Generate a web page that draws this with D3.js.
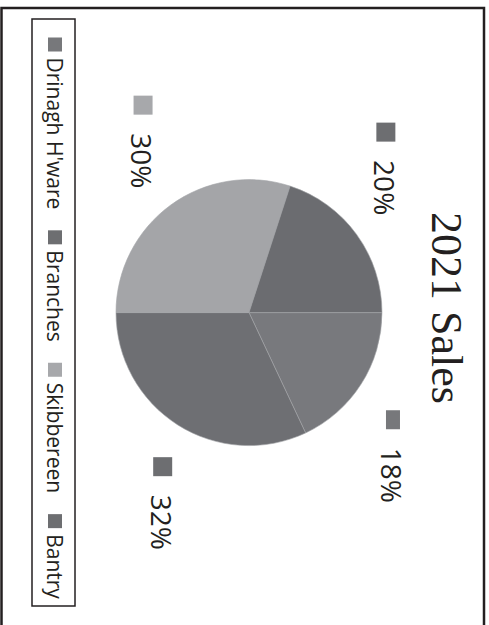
<!DOCTYPE html>
<html>
<head>
<meta charset="utf-8">
<script src="https://cdn.jsdelivr.net/npm/d3@7/dist/d3.min.js"></script>
<style>
  html, body { margin: 0; padding: 0; background: #ffffff; }
  svg { display: block; }
</style>
</head>
<body>
<svg id="chart" width="489" height="625"></svg>
<script>
// 2021 sales split by outlet
const title = "2021 Sales";
const categories = ["Drinagh H'ware", "Branches", "Skibbereen", "Bantry"];
const shares = [18, 32, 30, 20];
const sliceColors = ["#78797d", "#6e6f73", "#a4a5a8", "#6b6c70"];
const keyColors = ["#77787b", "#6d6e71", "#a7a8ab", "#6d6e71"];

const W = 625, H = 489;          // page laid out landscape, then turned a quarter clockwise
const ink = "#231f20";
const sans = "'Open Sans', 'Noto Sans', sans-serif";

const svg = d3.select("#chart");
const g = svg.append("g").attr("transform", `translate(${H},0) rotate(90)`);

// frame
g.append("rect")
  .attr("x", 8).attr("y", 5).attr("width", W + 30).attr("height", 482.5)
  .attr("fill", "none").attr("stroke", ink).attr("stroke-width", 2.5);

// title
g.append("text")
  .attr("x", 308).attr("y", 57)
  .attr("text-anchor", "middle")
  .attr("font-family", "'Liberation Serif', 'Times New Roman', serif")
  .attr("font-size", 44)
  .attr("fill", ink)
  .text(title);

// pie
const cx = 312.6, cy = 240, r = 133;
const pie = d3.pie().sort(null).value(d => d);
const arcs = pie(shares);
const arc = d3.arc().innerRadius(0).outerRadius(r);

const pieG = g.append("g").attr("transform", `translate(${cx},${cy})`);
pieG.selectAll("path")
  .data(arcs)
  .join("path")
  .attr("d", arc)
  .attr("fill", (d, i) => sliceColors[i])
  .attr("stroke", "#a3a4a7")
  .attr("stroke-width", 0.6);

// data labels: key square + percentage, placed outside the pie
const labelNudge = [12.9, -7.7, 3.8, -10.7];      // degrees, best-fit offsets
const labelReach = [1.523, 1.58, 1.516, 1.484];   // multiples of the radius
const keyTall = [14, 19, 19, 19];                 // first key is drawn squashed
const labelG = g.append("g");
arcs.forEach((d, i) => {
  const mid = (d.startAngle + d.endAngle) / 2 + labelNudge[i] * Math.PI / 180;
  const dist = r * labelReach[i];
  const lx = cx + dist * Math.sin(mid);
  const ly = cy - dist * Math.cos(mid);
  const item = labelG.append("g");
  const t = item.append("text")
    .attr("font-family", sans)
    .attr("font-size", 28)
    .attr("fill", ink)
    .text(`${d.data}%`);
  const tw = t.node().getComputedTextLength();
  const total = 19 + 18.5 + tw;
  const x0 = lx - total / 2;
  item.append("rect")
    .attr("x", x0).attr("y", ly - 1.5 - keyTall[i] / 2)
    .attr("width", 19).attr("height", keyTall[i])
    .attr("fill", keyColors[i]);
  t.attr("x", x0 + 37.5).attr("y", ly + 10.5);
});

// legend
const lg = g.append("g");
lg.append("rect")
  .attr("x", 19).attr("y", 414).attr("width", 587).attr("height", 43)
  .attr("fill", "none").attr("stroke", ink).attr("stroke-width", 1.5);

let cursor = 37.5;
categories.forEach((name, i) => {
  lg.append("rect")
    .attr("x", cursor).attr("y", 427)
    .attr("width", 14).attr("height", 14)
    .attr("fill", keyColors[i]);
  const t = lg.append("text")
    .attr("x", cursor + 20).attr("y", 442)
    .attr("font-family", sans)
    .attr("font-size", 21)
    .attr("fill", ink)
    .text(name);
  cursor += 20 + t.node().getComputedTextLength() + 21;
});
</script>
</body>
</html>
